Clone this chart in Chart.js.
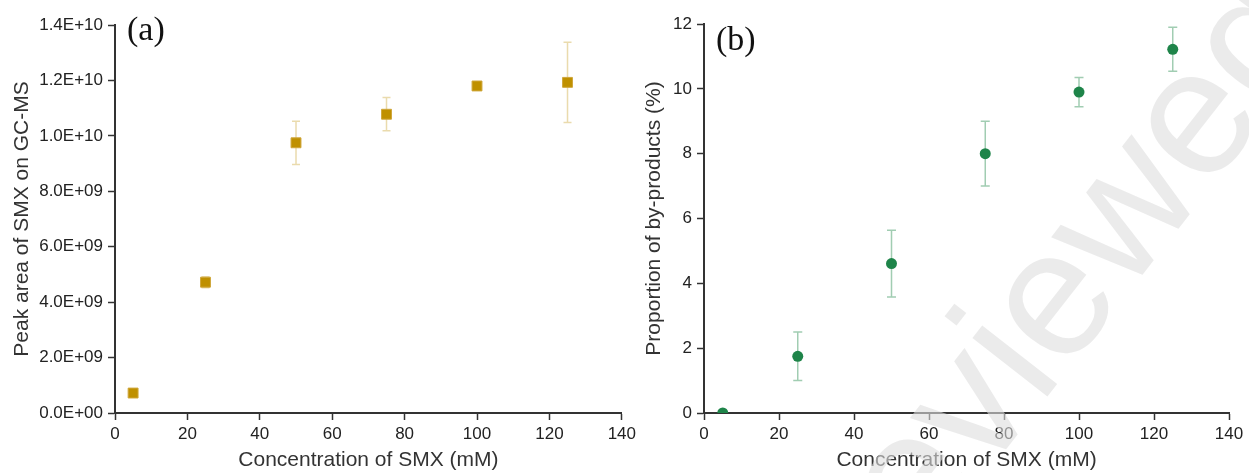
<!DOCTYPE html>
<html>
<head>
<meta charset="utf-8">
<script src="https://cdn.jsdelivr.net/npm/chart.js@4.4.1/dist/chart.umd.min.js"></script>
<style>
  html, body { margin: 0; padding: 0; background: #fff; }
  #wrap { position: relative; width: 1249px; height: 473px; overflow: hidden; background: #fff; }
  canvas { position: absolute; top: 0; }
  #chartA { left: 0; }
  #chartB { left: 640px; }
</style>
</head>
<body>
<div id="wrap">
  <canvas id="chartA" width="640" height="473"></canvas>
  <canvas id="chartB" width="609" height="473"></canvas>
</div>
<script>
// data
const concentrations = [5, 25, 50, 75, 100, 125];
const peakArea = [0.72e9, 4.72e9, 9.75e9, 10.78e9, 11.8e9, 11.93e9];
const peakAreaErr = [0.05e9, 0.2e9, 0.78e9, 0.6e9, 0.08e9, 1.45e9];
const byProducts = [0, 1.75, 4.61, 8.0, 9.9, 11.22];
const byProductsErr = [0, 0.75, 1.03, 1.0, 0.45, 0.68];

const xTicks = [0, 20, 40, 60, 80, 100, 120, 140];
const yTicksA = [0, 2e9, 4e9, 6e9, 8e9, 1e10, 1.2e10, 1.4e10];
const yTicksB = [0, 2, 4, 6, 8, 10, 12];

const FONT = '"Liberation Sans", Arial, sans-serif';
const AXIS = '#333333';

function sci(v) {
  if (v === 0) return '0.0E+00';
  const exp = Math.floor(Math.log10(v) + 1e-9);
  const m = v / Math.pow(10, exp);
  return m.toFixed(1) + 'E+' + String(exp).padStart(2, '0');
}

// vertical error bars, drawn under the markers
const errorBars = {
  id: 'errorBars',
  beforeDatasetsDraw(chart) {
    const ctx = chart.ctx;
    const xs = chart.scales.x, ys = chart.scales.y;
    chart.data.datasets.forEach(ds => {
      if (!ds.errors) return;
      ctx.save();
      ctx.strokeStyle = ds.errorColor;
      ctx.lineWidth = 1.5;
      ds.data.forEach((p, i) => {
        const e = ds.errors[i];
        if (!e) return;
        const x = xs.getPixelForValue(p.x);
        const yTop = ys.getPixelForValue(p.y + e);
        const yBot = ys.getPixelForValue(p.y - e);
        const w = ds.capWidth / 2;
        ctx.beginPath();
        ctx.moveTo(x, yTop); ctx.lineTo(x, yBot);
        ctx.moveTo(x - w, yTop); ctx.lineTo(x + w, yTop);
        ctx.moveTo(x - w, yBot); ctx.lineTo(x + w, yBot);
        ctx.stroke();
      });
      ctx.restore();
    });
  }
};

const panelLabel = {
  id: 'panelLabel',
  afterDraw(chart, args, opts) {
    if (!opts.text) return;
    const ctx = chart.ctx;
    ctx.save();
    ctx.font = '34px "Liberation Serif", "Times New Roman", serif';
    ctx.fillStyle = '#111';
    ctx.textBaseline = 'alphabetic';
    ctx.fillText(opts.text, opts.x, opts.y);
    ctx.restore();
  }
};

// faint diagonal preprint watermark
const watermark = {
  id: 'watermark',
  afterDraw(chart, args, opts) {
    if (!opts.text) return;
    const ctx = chart.ctx;
    ctx.save();
    ctx.font = opts.size + 'px ' + FONT;
    ctx.fillStyle = opts.color;
    ctx.translate(opts.x, opts.y);
    ctx.rotate(opts.angle * Math.PI / 180);
    const lead = ctx.measureText(opts.lead).width;
    ctx.fillText(opts.text, -lead, 0);
    ctx.restore();
  }
};

function makeScales(yTicks, yTitle, yWidth, yFmt, yMax, yTitlePad) {
  const grid = {
    drawOnChartArea: false,
    drawTicks: true,
    tickLength: 7,
    tickColor: AXIS,
    tickWidth: 1.5
  };
  const border = { display: true, color: AXIS, width: 2 };
  return {
    x: {
      type: 'linear', min: 0, max: 140,
      grid, border,
      afterBuildTicks: s => { s.ticks = xTicks.map(v => ({ value: v })); },
      afterFit: s => { s.height = 60; },
      ticks: { color: '#222', font: { family: FONT, size: 17 }, padding: 4, maxRotation: 0 },
      title: {
        display: true, text: 'Concentration of SMX (mM)', color: '#333',
        font: { family: FONT, size: 21 }, padding: { top: 0, bottom: 0 }
      }
    },
    y: {
      type: 'linear', min: 0, max: yMax,
      grid, border,
      afterBuildTicks: s => { s.ticks = yTicks.map(v => ({ value: v })); },
      afterFit: s => { s.width = yWidth; },
      ticks: { color: '#222', font: { family: FONT, size: 17 }, padding: 5, callback: yFmt },
      title: {
        display: true, text: yTitle, color: '#333',
        font: { family: FONT, size: 21 }, padding: { top: yTitlePad, bottom: 0 }
      }
    }
  };
}

const common = {
  responsive: false,
  animation: false,
  events: []
};

new Chart(document.getElementById('chartA'), {
  type: 'scatter',
  data: {
    datasets: [{
      data: concentrations.map((c, i) => ({ x: c, y: peakArea[i] })),
      errors: peakAreaErr,
      errorColor: 'rgba(191,144,0,0.32)',
      capWidth: 8,
      pointStyle: 'rect',
      pointRadius: 7,
      backgroundColor: '#BF9000',
      borderColor: '#CFA63A',
      borderWidth: 1
    }]
  },
  options: Object.assign({}, common, {
    layout: { padding: { left: 0, top: 25, right: 18, bottom: 0 } },
    scales: makeScales(yTicksA, 'Peak area of SMX on GC-MS', 115, v => sci(v), 1.4e10, 10),
    plugins: {
      legend: { display: false },
      tooltip: { enabled: false },
      panelLabel: { text: '(a)', x: 127, y: 40 }
    }
  }),
  plugins: [errorBars, panelLabel]
});

new Chart(document.getElementById('chartB'), {
  type: 'scatter',
  data: {
    datasets: [{
      data: concentrations.map((c, i) => ({ x: c, y: byProducts[i] })),
      errors: byProductsErr,
      errorColor: 'rgba(31,135,72,0.42)',
      capWidth: 9,
      pointStyle: 'circle',
      pointRadius: 5.5,
      backgroundColor: '#1E8449',
      borderWidth: 0,
      clip: { left: false, top: false, right: false, bottom: 0 }
    }]
  },
  options: Object.assign({}, common, {
    layout: { padding: { left: 0, top: 24, right: 20, bottom: 0 } },
    scales: makeScales(yTicksB, 'Proportion of by-products (%)', 64, v => String(v), 12, 2),
    plugins: {
      legend: { display: false },
      tooltip: { enabled: false },
      panelLabel: { text: '(b)', x: 76, y: 50 },
      watermark: {
        text: 'Preprint not peer reviewed', lead: 'Preprint not peer rev',
        x: 400, y: 406, angle: -52, size: 180, color: 'rgba(222,222,222,0.6)'
      }
    }
  }),
  plugins: [errorBars, panelLabel, watermark]
});
</script>
</body>
</html>
